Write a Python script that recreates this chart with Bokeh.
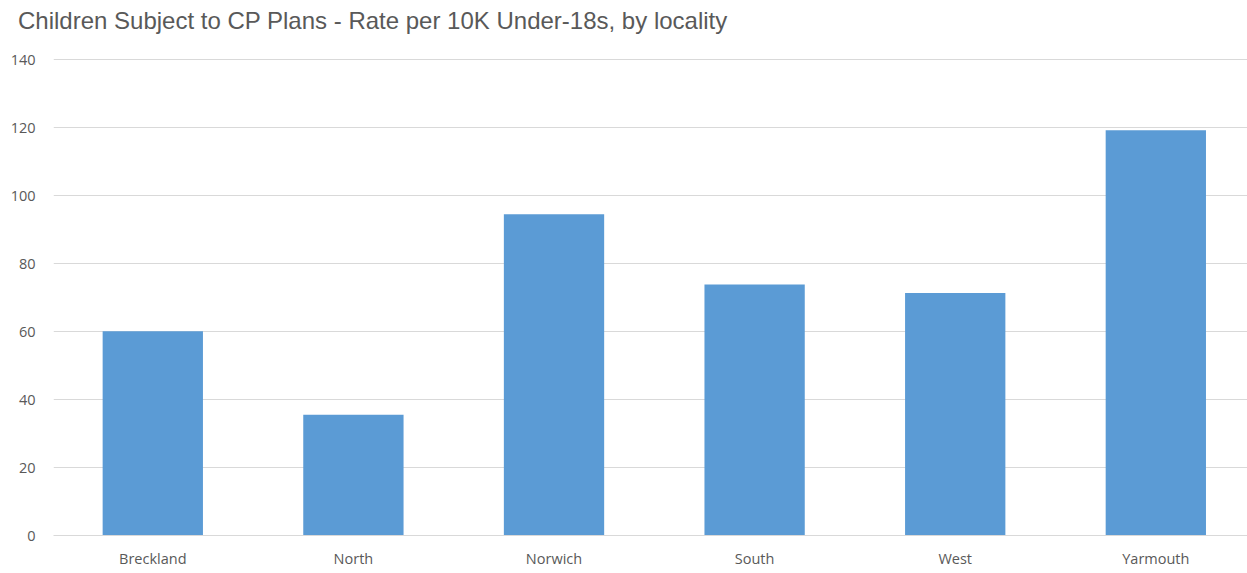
from bokeh.plotting import figure
from bokeh.models import Range1d, FixedTicker, Div
from bokeh.layouts import column
from bokeh.embed import file_html
from bokeh.resources import INLINE

title_text = "Children Subject to CP Plans - Rate per 10K Under-18s, by locality"
localities = ["Breckland", "North", "Norwich", "South", "West", "Yarmouth"]
rates = [60.1, 35.5, 94.5, 73.8, 71.3, 119.2]
y_ticks = [0, 20, 40, 60, 80, 100, 120, 140]

positions = list(range(len(localities)))

header = Div(text=title_text, width=1247, height=40, margin=(0, 0, 0, 0),
             styles={"font-family": "'Liberation Sans', Arial, sans-serif",
                     "font-size": "24px", "color": "#595959",
                     "padding-top": "7px", "padding-left": "18px",
                     "line-height": "normal", "white-space": "nowrap"})

p = figure(width=1247, height=530, output_backend="svg", toolbar_location=None,
           x_range=Range1d(-0.495, 5.457), y_range=Range1d(0, 140.3),
           min_border_left=53, min_border_right=0, min_border_top=18, min_border_bottom=20,
           margin=(0, 0, 0, 0))

p.vbar(x=positions, top=rates, width=0.5, color="#5B9BD5", line_color=None)

p.yaxis.ticker = y_ticks
p.yaxis.axis_line_color = None
p.yaxis.major_tick_line_color = None
p.yaxis.minor_tick_line_color = None
p.yaxis.major_label_text_font = "Open Sans"
p.yaxis.major_label_text_font_size = "14.5px"
p.yaxis.major_label_text_color = "#595959"
p.yaxis.major_label_standoff = 12

p.xaxis.ticker = FixedTicker(ticks=positions)
p.xaxis.major_label_overrides = {i: name for i, name in zip(positions, localities)}
p.xaxis.axis_line_color = "#D9D9D9"
p.xaxis.major_tick_line_color = None
p.xaxis.minor_tick_line_color = None
p.xaxis.major_label_text_font = "Open Sans"
p.xaxis.major_label_text_font_size = "14.5px"
p.xaxis.major_label_text_color = "#595959"
p.xaxis.major_label_standoff = 7

p.xgrid.grid_line_color = None
p.ygrid.grid_line_color = "#D9D9D9"
p.ygrid.grid_line_width = 1
p.outline_line_color = None
p.border_fill_color = "white"

layout = column(header, p, spacing=0)

open("out.html", "w").write(file_html(layout, INLINE))
